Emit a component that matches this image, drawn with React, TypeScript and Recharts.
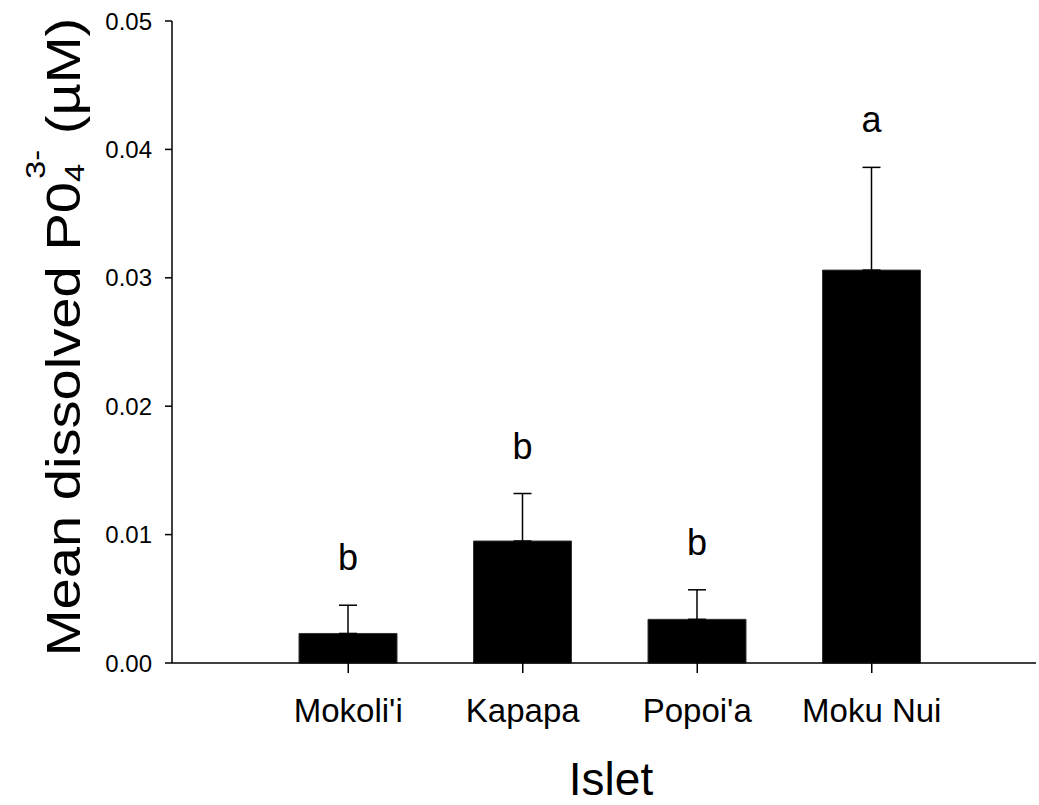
import { BarChart, Bar, XAxis, YAxis, ErrorBar, LabelList } from 'recharts'

const ISLETS = ["Mokoli'i", 'Kapapa', "Popoi'a", 'Moku Nui']
const MEAN_PO4 = [0.0023, 0.0095, 0.0034, 0.0306]
const SE_PO4 = [0.0022, 0.0037, 0.0023, 0.008]
const LETTERS = ['b', 'b', 'b', 'a']
const Y_TICKS = [0, 0.01, 0.02, 0.03, 0.04, 0.05]

const FONT = '"Liberation Sans", Arial, Helvetica, sans-serif'

const data = ISLETS.map((islet, i) => ({
  islet,
  mean: MEAN_PO4[i],
  err: [0, SE_PO4[i]],
  letter: LETTERS[i],
}))

// letter sits a fixed gap above the top of the error bar
const renderLetter = (props: any) => {
  const { x, y, width, height, index } = props
  const v = MEAN_PO4[index]
  const e = SE_PO4[index]
  const errTop = y - (e / v) * height
  return (
    <text x={x + width / 2} y={errTop - 35} textAnchor="middle" fontSize={36} fontFamily={FONT} fill="#000">
      {LETTERS[index]}
    </text>
  )
}

// original title is a bit stretched along its length
const YTitle = () => (
  <text
    x={0}
    y={0}
    transform="translate(80, 337) rotate(-90) scale(1.17, 1)"
    textAnchor="middle"
    fontSize={48}
    fontFamily={FONT}
    fill="#000"
  >
    Mean dissolved P0
    <tspan fontSize={28} dy={4}>4</tspan>
    <tspan fontSize={28} dx={-13} dy={-39}>3-</tspan>
    <tspan dy={35}>{'  (\u00b5M)'}</tspan>
  </text>
)

const XTitle = (props: any) => {
  const { viewBox } = props
  return (
    <text
      x={viewBox.x + viewBox.width / 2 + 7}
      y={795}
      textAnchor="middle"
      fontSize={46}
      fontFamily={FONT}
      fill="#000"
    >
      Islet
    </text>
  )
}

export default function App() {
  return (
    <div style={{ position: 'absolute', left: 0, top: 0, width: 1039, height: 805, background: '#fff' }}>
      <BarChart width={1039} height={805} data={data} margin={{ top: 21, right: 3, left: 0, bottom: 0 }}>
        <XAxis
          dataKey="islet"
          height={142}
          padding={{ left: 89, right: 77 }}
          axisLine={{ stroke: '#000', strokeWidth: 1.5 }}
          tickLine={{ stroke: '#000', strokeWidth: 1.5 }}
          tickSize={10}
          tickMargin={26}
          tick={{ fill: '#000', fontSize: 33, fontFamily: FONT }}
          label={<XTitle />}
        />
        <YAxis
          width={172}
          domain={[0, 0.05]}
          ticks={Y_TICKS}
          tickFormatter={(v: number) => v.toFixed(2)}
          axisLine={{ stroke: '#000', strokeWidth: 1.5 }}
          tickLine={{ stroke: '#000', strokeWidth: 1.5 }}
          tickSize={7}
          tickMargin={13}
          tick={{ fill: '#000', fontSize: 24, fontFamily: FONT }}
          label={<YTitle />}
        />
        <Bar dataKey="mean" fill="#000" stroke="#333" strokeWidth={1} barSize={98} isAnimationActive={false}>
          <ErrorBar dataKey="err" direction="y" width={9} stroke="#000" strokeWidth={1.5} />
          <LabelList dataKey="letter" content={renderLetter} />
        </Bar>
      </BarChart>
    </div>
  )
}
